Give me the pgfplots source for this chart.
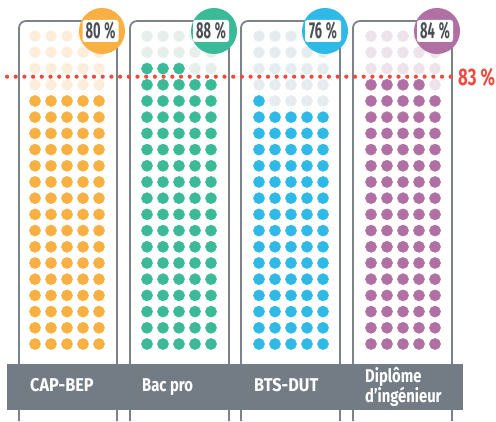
\documentclass[border=0pt]{standalone}
\usepackage{pgfplots}
\pgfplotsset{compat=1.18}
\usepackage{fontspec}
\setmainfont{Fira Sans}[FakeStretch=0.8]
\newfontfamily\capsfont{Fira Sans}[FakeStretch=0.88]
\newfontfamily\pctfont{Fira Sans}[FakeStretch=0.56]
\newfontfamily\redfont{Fira Sans}[FakeStretch=0.7]
\definecolor{orangec}{HTML}{F8B043}
\definecolor{orangel}{HTML}{FDEEDC}
\definecolor{greenc}{HTML}{3BBA97}
\definecolor{greenl}{HTML}{E6EFE9}
\definecolor{bluec}{HTML}{2EB9E7}
\definecolor{bluel}{HTML}{E4ECF0}
\definecolor{purplec}{HTML}{B070A4}
\definecolor{purplel}{HTML}{EEE3EA}
\definecolor{boxc}{HTML}{7B838A}
\definecolor{bandc}{HTML}{737C85}
\definecolor{redc}{HTML}{EE4B3E}
\definecolor{darkc}{HTML}{4A4F56}
\newcommand\pxc[2]{(axis cs:{(#1-35)/16},{1+(344-#2)/16.2})}
\newcommand\boxx[2]{%
  \draw[boxc, line width=1.8pt, rounded corners=7pt] \pxc{#1}{421} -- \pxc{#1}{21} -- \pxc{#2}{21} -- \pxc{#2}{421};
}
\newcommand\badge[4]{%
  \fill[#3] \pxc{#1}{31} circle [radius=23pt];
  \node[fill=white, rounded corners=2.5pt, minimum width=36pt, minimum height=22pt, inner sep=0pt, text=darkc] at \pxc{#2}{31} {\pctfont\bfseries\fontsize{23}{23}\selectfont #4\,\%};
}
\newcommand\lab[3]{%
  \node[anchor=base west, inner sep=0pt, text=white] at \pxc{#1}{#2} {\bfseries\fontsize{18.5}{19}\selectfont #3};
}
\newcommand\labc[3]{%
  \node[anchor=base west, inner sep=0pt, text=white] at \pxc{#1}{#2} {\capsfont\bfseries\fontsize{18.5}{19}\selectfont #3};
}
\begin{document}
\begin{tikzpicture}
\begin{axis}[scale only axis, width=496pt, height=421pt,
  xmin=-2.1875, xmax=28.8125, ymin=-3.7531, ymax=22.2346,
  hide axis, clip=false, set layers=standard]
\begin{pgfonlayer}{axis background}
\path \pxc{0}{0} rectangle \pxc{496}{421};
\boxx{19}{117}
\boxx{130}{229}
\boxx{241}{340}
\boxx{353}{452}
\end{pgfonlayer}
% CAP-BEP 80
\addplot[only marks, mark=*, mark size=5.6pt, color=orangec] coordinates {
(0,1)(1,1)(2,1)(3,1)(4,1) (0,2)(1,2)(2,2)(3,2)(4,2) (0,3)(1,3)(2,3)(3,3)(4,3) (0,4)(1,4)(2,4)(3,4)(4,4)
(0,5)(1,5)(2,5)(3,5)(4,5) (0,6)(1,6)(2,6)(3,6)(4,6) (0,7)(1,7)(2,7)(3,7)(4,7) (0,8)(1,8)(2,8)(3,8)(4,8)
(0,9)(1,9)(2,9)(3,9)(4,9) (0,10)(1,10)(2,10)(3,10)(4,10) (0,11)(1,11)(2,11)(3,11)(4,11) (0,12)(1,12)(2,12)(3,12)(4,12)
(0,13)(1,13)(2,13)(3,13)(4,13) (0,14)(1,14)(2,14)(3,14)(4,14) (0,15)(1,15)(2,15)(3,15)(4,15) (0,16)(1,16)(2,16)(3,16)(4,16)
};
\addplot[only marks, mark=*, mark size=5.6pt, color=orangel] coordinates {
(0,17)(1,17)(2,17)(3,17)(4,17) (0,18)(1,18)(2,18)(3,18)(4,18) (0,19)(1,19)(2,19)(3,19)(4,19) (0,20)(1,20)(2,20)(3,20)(4,20)
};
% Bac pro 88
\addplot[only marks, mark=*, mark size=5.6pt, color=greenc] coordinates {
(7,1)(8,1)(9,1)(10,1)(11,1) (7,2)(8,2)(9,2)(10,2)(11,2) (7,3)(8,3)(9,3)(10,3)(11,3) (7,4)(8,4)(9,4)(10,4)(11,4)
(7,5)(8,5)(9,5)(10,5)(11,5) (7,6)(8,6)(9,6)(10,6)(11,6) (7,7)(8,7)(9,7)(10,7)(11,7) (7,8)(8,8)(9,8)(10,8)(11,8)
(7,9)(8,9)(9,9)(10,9)(11,9) (7,10)(8,10)(9,10)(10,10)(11,10) (7,11)(8,11)(9,11)(10,11)(11,11) (7,12)(8,12)(9,12)(10,12)(11,12)
(7,13)(8,13)(9,13)(10,13)(11,13) (7,14)(8,14)(9,14)(10,14)(11,14) (7,15)(8,15)(9,15)(10,15)(11,15) (7,16)(8,16)(9,16)(10,16)(11,16)
(7,17)(8,17)(9,17)(10,17)(11,17) (7,18)(8,18)(9,18)
};
\addplot[only marks, mark=*, mark size=5.6pt, color=greenl] coordinates {
(10,18)(11,18) (7,19)(8,19)(9,19)(10,19)(11,19) (7,20)(8,20)(9,20)(10,20)(11,20)
};
% BTS-DUT 76
\addplot[only marks, mark=*, mark size=5.6pt, color=bluec] coordinates {
(14,1)(15,1)(16,1)(17,1)(18,1) (14,2)(15,2)(16,2)(17,2)(18,2) (14,3)(15,3)(16,3)(17,3)(18,3) (14,4)(15,4)(16,4)(17,4)(18,4)
(14,5)(15,5)(16,5)(17,5)(18,5) (14,6)(15,6)(16,6)(17,6)(18,6) (14,7)(15,7)(16,7)(17,7)(18,7) (14,8)(15,8)(16,8)(17,8)(18,8)
(14,9)(15,9)(16,9)(17,9)(18,9) (14,10)(15,10)(16,10)(17,10)(18,10) (14,11)(15,11)(16,11)(17,11)(18,11) (14,12)(15,12)(16,12)(17,12)(18,12)
(14,13)(15,13)(16,13)(17,13)(18,13) (14,14)(15,14)(16,14)(17,14)(18,14) (14,15)(15,15)(16,15)(17,15)(18,15) (14,16)
};
\addplot[only marks, mark=*, mark size=5.6pt, color=bluel] coordinates {
(15,16)(16,16)(17,16)(18,16) (14,17)(15,17)(16,17)(17,17)(18,17) (14,18)(15,18)(16,18)(17,18)(18,18)
(14,19)(15,19)(16,19)(17,19)(18,19) (14,20)(15,20)(16,20)(17,20)(18,20)
};
% Diplome 84
\addplot[only marks, mark=*, mark size=5.6pt, color=purplec] coordinates {
(21,1)(22,1)(23,1)(24,1)(25,1) (21,2)(22,2)(23,2)(24,2)(25,2) (21,3)(22,3)(23,3)(24,3)(25,3) (21,4)(22,4)(23,4)(24,4)(25,4)
(21,5)(22,5)(23,5)(24,5)(25,5) (21,6)(22,6)(23,6)(24,6)(25,6) (21,7)(22,7)(23,7)(24,7)(25,7) (21,8)(22,8)(23,8)(24,8)(25,8)
(21,9)(22,9)(23,9)(24,9)(25,9) (21,10)(22,10)(23,10)(24,10)(25,10) (21,11)(22,11)(23,11)(24,11)(25,11) (21,12)(22,12)(23,12)(24,12)(25,12)
(21,13)(22,13)(23,13)(24,13)(25,13) (21,14)(22,14)(23,14)(24,14)(25,14) (21,15)(22,15)(23,15)(24,15)(25,15) (21,16)(22,16)(23,16)(24,16)(25,16)
(21,17)(22,17)(23,17)(24,17)
};
\addplot[only marks, mark=*, mark size=5.6pt, color=purplel] coordinates {
(25,17) (21,18)(22,18)(23,18)(24,18)(25,18) (21,19)(22,19)(23,19)(24,19)(25,19) (21,20)(22,20)(23,20)(24,20)(25,20)
};
% reference line 83 %
\addplot[on layer=axis foreground, draw=redc, line width=4.2pt, line cap=round, dash pattern=on 0pt off 8.7pt] coordinates {(-1.75,17.5) (26.5,17.5)};
\begin{pgfonlayer}{axis foreground}
\fill[bandc] \pxc{7}{364} rectangle \pxc{463}{410};
\labc{30}{391}{CAP-BEP}
\lab{142}{391}{Bac pro}
\labc{254}{391}{BTS-DUT}
\lab{365}{382}{Diplôme}
\lab{365}{402}{d'ingénieur}
\node[anchor=west, inner sep=0pt, text=redc] at \pxc{458}{77} {\redfont\bfseries\fontsize{24}{24}\selectfont 83\,\%};
\badge{102}{100.5}{orangec}{80}
\badge{214}{211}{greenc}{88}
\badge{325}{323}{bluec}{76}
\badge{437}{435}{purplec}{84}
\end{pgfonlayer}
\end{axis}
\end{tikzpicture}
\end{document}
